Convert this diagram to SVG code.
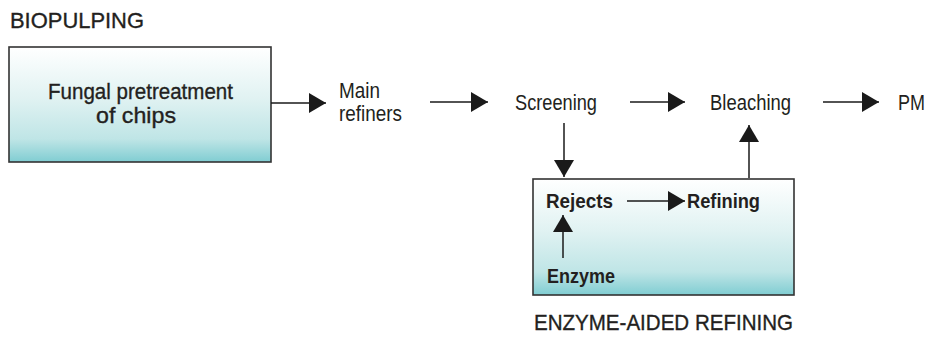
<svg xmlns="http://www.w3.org/2000/svg" width="932" height="343" viewBox="0 0 932 343">
  <defs>
    <linearGradient id="boxFill" x1="0" y1="0" x2="0" y2="1">
      <stop offset="0" stop-color="#ffffff"/>
      <stop offset="0.45" stop-color="#e0f2f2"/>
      <stop offset="0.8" stop-color="#bfe5e6"/>
      <stop offset="1" stop-color="#80cdd2"/>
    </linearGradient>
    <marker id="head" markerUnits="userSpaceOnUse" markerWidth="18" markerHeight="21" refX="17" refY="10" orient="auto" viewBox="0 0 18 21">
      <path d="M0,0 L17,10 L0,20 Z" fill="#1a1a1a"/>
    </marker>
  </defs>
  <style>
    text { font-family: "Liberation Sans Narrow", "Liberation Sans", Arial, sans-serif; fill: #231f20; }
    .title { font-size: 22px; stroke: #231f20; stroke-width: 0.35; }
    .label { font-size: 21.5px; }
    .inner { font-size: 21px; font-weight: bold; }
    .box { fill: url(#boxFill); stroke: #333333; stroke-width: 1.6; }
    .conn line { stroke: #1a1a1a; stroke-width: 1.5; marker-end: url(#head); }
  </style>
  <rect width="932" height="343" fill="#ffffff"/>

  <text class="title" x="10" y="28" textLength="134" lengthAdjust="spacingAndGlyphs">BIOPULPING</text>

  <g id="fungal-pretreatment">
    <rect class="box" x="9" y="47" width="262" height="115"/>
    <text class="title" x="48" y="99" textLength="185" lengthAdjust="spacingAndGlyphs">Fungal pretreatment</text>
    <text class="title" x="96" y="123" textLength="80" lengthAdjust="spacingAndGlyphs">of chips</text>
  </g>

  <g id="main-refiners">
    <text class="label" x="339" y="98" textLength="41" lengthAdjust="spacingAndGlyphs">Main</text>
    <text class="label" x="339" y="121" textLength="63" lengthAdjust="spacingAndGlyphs">refiners</text>
  </g>

  <g id="screening">
    <text class="label" x="515" y="110" textLength="82" lengthAdjust="spacingAndGlyphs">Screening</text>
  </g>

  <g id="bleaching">
    <text class="label" x="710" y="110" textLength="81" lengthAdjust="spacingAndGlyphs">Bleaching</text>
  </g>

  <g id="pm">
    <text class="label" x="898" y="110" textLength="27" lengthAdjust="spacingAndGlyphs">PM</text>
  </g>

  <g id="enzyme-aided-refining">
    <rect class="box" x="533" y="179" width="261" height="116"/>
    <text class="inner" x="546" y="208" textLength="67" lengthAdjust="spacingAndGlyphs">Rejects</text>
    <text class="inner" x="687" y="208" textLength="73" lengthAdjust="spacingAndGlyphs">Refining</text>
    <text class="inner" x="547" y="283" textLength="68" lengthAdjust="spacingAndGlyphs">Enzyme</text>
    <text class="title" x="534" y="330" font-size="23" textLength="259" lengthAdjust="spacingAndGlyphs">ENZYME-AIDED REFINING</text>
  </g>

  <g id="connectors" class="conn">
    <line x1="271" y1="103" x2="326" y2="103"/>
    <line x1="430" y1="102" x2="488" y2="102"/>
    <line x1="630" y1="102" x2="685" y2="102"/>
    <line x1="823" y1="102" x2="879" y2="102"/>
    <line x1="564" y1="123" x2="564" y2="177"/>
    <line x1="749" y1="178" x2="749" y2="125"/>
    <line x1="627" y1="201" x2="685" y2="201"/>
    <line x1="563" y1="258" x2="563" y2="215"/>
  </g>
</svg>
